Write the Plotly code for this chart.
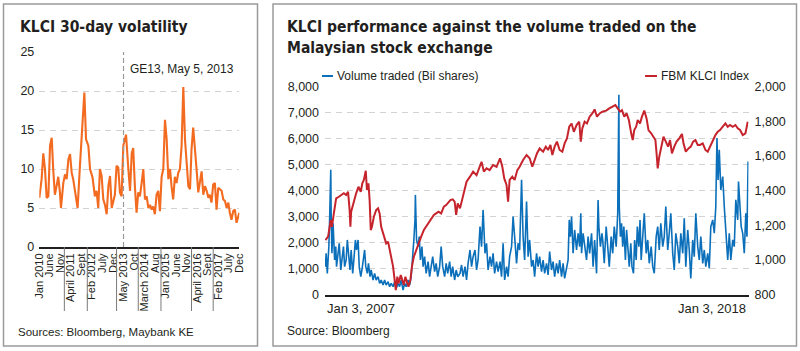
import plotly.graph_objects as go

# ---------------- Data: left chart (KLCI 30-day volatility) ----------------
# x = months since Jan 2010
vol_month = [0.0, 0.3, 1.1, 1.9, 2.7, 3.5, 4.3, 5.1, 5.9, 6.6, 7.4, 8.2, 9.0, 9.8, 10.3, 11.4, 12.2, 13.0,
             13.8, 14.6, 15.4, 16.1, 16.9, 18.2, 19.3, 20.1, 20.9, 21.4, 22.2, 23.3, 24.1, 25.3, 26.4, 27.2,
             28.0, 28.8, 29.6, 30.4, 31.2, 32.0, 32.8, 33.6, 34.4, 35.1, 35.9, 36.7, 37.5, 38.3, 39.1, 39.9,
             41.2, 42.3, 43.1, 43.9, 44.6, 45.4, 46.2, 47.0, 47.8, 48.6, 49.4, 50.2, 51.0, 51.8, 52.6, 53.4,
             54.1, 54.9, 55.7, 56.5, 57.3, 58.1, 58.9, 59.7, 60.5, 61.3, 62.1, 62.8, 63.6, 64.4, 65.2, 66.0,
             66.8, 67.6, 68.4, 69.2, 70.0, 70.8, 71.6, 72.3, 73.1, 73.9, 74.7, 75.5, 76.3, 77.1, 77.9, 78.7,
             79.5, 80.3, 81.0, 81.8, 82.6, 83.4, 84.2, 85.0, 85.8, 86.6, 87.4, 88.2, 89.0, 89.8, 90.5, 91.3,
             92.1, 92.9, 93.7, 94.5, 95.0]
vol_value = [6.3, 7.0, 8.7, 12.0, 10.0, 6.3, 6.5, 13.0, 14.0, 10.0, 6.7, 7.8, 9.0, 7.0, 5.0, 8.2, 9.3, 8.7,
             11.2, 11.9, 9.5, 8.7, 7.0, 5.0, 10.4, 13.8, 16.8, 19.8, 13.8, 13.0, 10.0, 8.9, 6.5, 7.2,
             5.0, 10.0, 9.1, 6.1, 5.4, 4.2, 7.8, 9.1, 5.0, 5.7, 6.7, 10.4, 10.2, 7.0, 6.5, 13.0,
             14.4, 10.0, 7.2, 12.0, 12.7, 7.8, 4.4, 7.0, 6.5, 8.2, 10.0, 6.1, 6.5, 5.0, 5.4, 4.8,
             5.2, 4.2, 6.7, 7.2, 4.6, 9.0, 10.0, 16.3, 13.8, 8.7, 10.0, 7.8, 6.1, 9.0, 8.2, 9.5,
             10.0, 13.0, 20.5, 13.8, 11.2, 7.8, 7.4, 12.5, 15.3, 13.0, 10.0, 7.0, 8.7, 9.7, 6.7, 7.8,
             7.2, 6.3, 6.7, 5.7, 8.0, 8.2, 4.8, 7.6, 7.4, 7.2, 6.1, 5.9, 5.0, 5.7, 4.4, 3.5,
             4.6, 4.8, 3.1, 4.2, 4.4]
vol_tick_months = [0, 5, 10, 15, 20, 25, 30, 35, 40, 45, 50, 55, 60, 65, 70, 75, 80, 85, 90, 95]
vol_tick_labels = ["Jan 2010", "June", "Nov", "April 2011", "Sept", "Feb 2012", "July", "Dec",
                   "May 2013", "Oct", "March 2014", "Aug", "Jan 2015", "June", "Nov", "April 2016",
                   "Sept", "Feb 2017", "July", "Dec"]
vol_year_breaks = [11.9, 22.8, 36.7, 47.0, 57.8, 72.3, 82.6]
ge13_month = 40
vol_y_ticks = [0, 5, 10, 15, 20, 25]

# ---------------- Data: right chart ----------------
volume_year = [2007.01, 2007.03, 2007.06, 2007.10, 2007.12, 2007.15, 2007.16, 2007.18, 2007.21, 2007.23, 2007.25,
               2007.28, 2007.30, 2007.34, 2007.37, 2007.41, 2007.44, 2007.48, 2007.51, 2007.55, 2007.58, 2007.61,
               2007.65, 2007.68, 2007.72, 2007.75, 2007.79, 2007.82, 2007.86, 2007.89, 2007.93, 2007.96, 2008.00,
               2008.03, 2008.06, 2008.10, 2008.13, 2008.17, 2008.20, 2008.25, 2008.29, 2008.33, 2008.38, 2008.42,
               2008.46, 2008.51, 2008.55, 2008.59, 2008.64, 2008.68, 2008.72, 2008.77, 2008.81, 2008.85, 2008.90,
               2008.94, 2008.98, 2009.03, 2009.07, 2009.11, 2009.16, 2009.20, 2009.24, 2009.28, 2009.31, 2009.34,
               2009.35, 2009.38, 2009.42, 2009.45, 2009.48, 2009.52, 2009.55, 2009.59, 2009.63, 2009.68, 2009.72,
               2009.76, 2009.80, 2009.85, 2009.89, 2009.93, 2009.98, 2010.02, 2010.06, 2010.11, 2010.15, 2010.19,
               2010.24, 2010.28, 2010.32, 2010.37, 2010.41, 2010.45,
               2010.51, 2010.55, 2010.59, 2010.64, 2010.68, 2010.72, 2010.77, 2010.81, 2010.85, 2010.90, 2010.94,
               2010.98, 2011.03, 2011.07, 2011.11, 2011.16, 2011.20, 2011.24, 2011.29, 2011.33, 2011.37, 2011.41,
               2011.46, 2011.50, 2011.55, 2011.59, 2011.63, 2011.67, 2011.72, 2011.76, 2011.80, 2011.85, 2011.89,
               2011.93, 2011.98, 2012.02, 2012.06, 2012.11, 2012.15, 2012.19, 2012.24, 2012.28, 2012.32, 2012.37,
               2012.41, 2012.45, 2012.50, 2012.54, 2012.58, 2012.63, 2012.67, 2012.71, 2012.76, 2012.80, 2012.84,
               2012.89, 2012.93, 2012.97, 2013.02, 2013.06, 2013.10, 2013.15, 2013.19, 2013.23, 2013.28, 2013.32,
               2013.35, 2013.38, 2013.41, 2013.45, 2013.49, 2013.54, 2013.58, 2013.62, 2013.65, 2013.67, 2013.71,
               2013.75, 2013.80, 2013.84, 2013.88, 2013.93, 2013.97, 2014.01, 2014.06, 2014.10, 2014.12, 2014.16,
               2014.20,
               2014.22, 2014.26, 2014.31, 2014.35, 2014.39, 2014.44, 2014.48, 2014.52, 2014.57, 2014.61, 2014.64,
               2014.65, 2014.68, 2014.71, 2014.74, 2014.77, 2014.81, 2014.84, 2014.88, 2014.91, 2014.95, 2014.98,
               2015.02, 2015.05, 2015.09, 2015.12, 2015.16, 2015.19, 2015.22, 2015.26, 2015.30, 2015.35, 2015.39,
               2015.43, 2015.48, 2015.52, 2015.56, 2015.61, 2015.65, 2015.69, 2015.73, 2015.78, 2015.82, 2015.86,
               2015.91, 2015.95, 2015.99, 2016.04, 2016.08, 2016.12, 2016.17, 2016.21, 2016.25, 2016.30, 2016.34,
               2016.38, 2016.43, 2016.47, 2016.51, 2016.56, 2016.60, 2016.64, 2016.69, 2016.73, 2016.77, 2016.82,
               2016.86, 2016.90, 2016.95, 2016.99, 2017.03, 2017.08, 2017.12, 2017.16, 2017.19, 2017.22, 2017.25,
               2017.29, 2017.34, 2017.38, 2017.42, 2017.47, 2017.51, 2017.55, 2017.60, 2017.64, 2017.68, 2017.73,
               2017.75, 2017.79, 2017.82, 2017.86, 2017.90, 2017.94, 2017.97, 2018.00]
volume_bn = [1079, 1592, 822, 1849, 2876, 4802, 3133, 1592, 2748, 2234, 1335,
             1849, 1079, 1592, 1977, 950, 1464, 1849, 1079, 1335, 2106, 1464,
             950, 1721, 822, 1335, 2106, 1721, 2106, 1079, 693, 950, 1335,
             1721, 1079, 822, 1207, 693, 950, 565, 822, 565, 693, 437,
             565, 372, 565, 372, 501, 308, 437, 308, 501, 244, 437,
             308, 565, 180, 437, 308, 565, 372, 693, 1335, 2106, 2876,
             3839, 2106, 1849, 2234, 1335, 1849, 1079, 1464, 822, 1271, 693,
             1079, 1464, 886, 1207, 693, 1079, 1849, 1079, 693, 1207, 822,
             1271, 693, 1079, 565, 950, 693,
             822, 1143, 693, 1079, 565, 1207, 1721, 1079, 1464, 1721, 950,
             1335, 2619, 1849, 3261, 1592, 1977, 950, 1464, 1079, 1592, 822,
             1271, 886, 1271, 693, 1977, 565, 1079, 693, 1464, 1849, 3004,
             2234, 1207, 1977, 1721, 4417, 2234, 1335, 3582, 1464, 2106, 1079,
             1335, 693, 1592, 1079, 1464, 886, 1335, 822, 1207, 757, 1656,
             950, 1271, 693, 1207, 822, 1335, 693, 1207, 629, 1079, 1335,
             2876, 2234, 3004, 1592, 2491, 1721, 2363, 1849, 3133, 1592, 2363,
             1849, 1335, 2234, 1592, 2363, 1079, 2106, 822, 3646, 2619, 1849,
             2363,
             2106, 1207, 2619, 1849, 1079, 2234, 1592, 2619, 1849, 3133, 7691,
             3390, 2234, 2748, 1849, 2619, 1335, 2491, 1592, 1079, 1977, 1079,
             822, 2106, 1335, 2619, 1849, 2876, 1335, 2363, 3133, 1592, 2106,
             1207, 1849, 1079, 822, 2234, 2619, 1721, 2748, 1849, 2234, 3390,
             1721, 2363, 3133, 1592, 950, 2363, 1849, 1207, 2363, 1592, 2940,
             1079, 2491, 1721, 629, 2106, 1464, 3133, 1849, 1335, 2234, 1207,
             1721, 1079, 1592, 1014, 2619, 2876, 2363, 3390, 6022, 4417, 5572,
             4032, 4545, 3390, 2619, 1335, 2363, 1335, 2106, 1849, 3646, 2876,
             4353, 3390, 2619, 2363, 1592, 3133, 2234, 5123]

klci_year = [2007.01, 2007.08, 2007.15, 2007.18, 2007.23, 2007.29, 2007.36, 2007.42, 2007.49, 2007.55, 2007.60,
             2007.64, 2007.66, 2007.68, 2007.75, 2007.81, 2007.87, 2007.93, 2007.97, 2008.01, 2008.06, 2008.09,
             2008.13, 2008.16, 2008.19, 2008.22, 2008.27, 2008.33, 2008.38, 2008.42, 2008.46, 2008.51, 2008.55,
             2008.59, 2008.64, 2008.68, 2008.72, 2008.77, 2008.81, 2008.84, 2008.88, 2008.91, 2008.97, 2009.00,
             2009.05, 2009.09, 2009.14, 2009.17, 2009.22, 2009.26, 2009.31, 2009.37, 2009.43, 2009.50, 2009.57,
             2009.63, 2009.69, 2009.76, 2009.83, 2009.89, 2009.95, 2010.02, 2010.09, 2010.15, 2010.21, 2010.26,
             2010.32, 2010.37, 2010.41, 2010.45,
             2010.51, 2010.59, 2010.68, 2010.77, 2010.85, 2010.94, 2011.03, 2011.07, 2011.13, 2011.20, 2011.28,
             2011.37, 2011.46, 2011.55, 2011.61, 2011.66, 2011.72, 2011.76, 2011.80, 2011.87, 2011.93, 2012.00,
             2012.06, 2012.15, 2012.24, 2012.32, 2012.39, 2012.45, 2012.51, 2012.58, 2012.67, 2012.74, 2012.80,
             2012.86, 2012.91, 2012.97, 2013.03, 2013.10, 2013.17, 2013.23, 2013.29, 2013.35, 2013.41, 2013.47,
             2013.54, 2013.61, 2013.65, 2013.69, 2013.75, 2013.81, 2013.88, 2013.95, 2014.01, 2014.07, 2014.14,
             2014.21,
             2014.31, 2014.39, 2014.48, 2014.55, 2014.61, 2014.67, 2014.72, 2014.78, 2014.84, 2014.90, 2014.96,
             2015.00, 2015.04, 2015.09, 2015.13, 2015.19, 2015.24, 2015.30, 2015.36, 2015.41, 2015.48, 2015.54,
             2015.59, 2015.62, 2015.65, 2015.69, 2015.76, 2015.80, 2015.86, 2015.92, 2015.97, 2016.02, 2016.08,
             2016.14, 2016.21, 2016.28, 2016.32, 2016.38, 2016.45, 2016.51, 2016.57, 2016.63, 2016.69, 2016.75,
             2016.82, 2016.89, 2016.95, 2017.01, 2017.08, 2017.15, 2017.21, 2017.27, 2017.34, 2017.41, 2017.47,
             2017.53, 2017.60, 2017.67, 2017.73, 2017.79, 2017.86, 2017.93, 2017.99]
klci_index = [1115, 1135, 1231, 1192, 1269, 1356, 1365, 1375, 1385, 1375, 1394,
              1288, 1192, 1279, 1346, 1385, 1423, 1394, 1442, 1462, 1515, 1404,
              1442, 1346, 1173, 1192, 1250, 1288, 1298, 1269, 1192, 1154, 1135,
              1096, 1106, 1058, 1029, 962, 885, 827, 904, 865, 913, 885,
              856, 904, 875, 846, 885, 962, 1019, 1058, 1096, 1135, 1173,
              1192, 1212, 1231, 1260, 1269, 1279, 1269, 1308, 1317, 1337, 1346,
              1350, 1337, 1260, 1327,
              1298, 1365, 1452, 1481, 1510, 1490, 1538, 1567, 1510, 1529, 1519,
              1548, 1538, 1587, 1538, 1471, 1433, 1337, 1462, 1481, 1462, 1519,
              1538, 1577, 1606, 1587, 1538, 1577, 1615, 1644, 1625, 1654, 1635,
              1664, 1606, 1654, 1683, 1635, 1625, 1673, 1702, 1769, 1788, 1740,
              1779, 1798, 1683, 1760, 1798, 1788, 1827, 1846, 1869, 1827, 1846,
              1856,
              1862, 1875, 1885, 1894, 1875, 1856, 1865, 1827, 1846, 1808, 1731,
              1692, 1750, 1769, 1808, 1788, 1827, 1862, 1817, 1750, 1731, 1712,
              1692, 1615, 1529, 1596, 1664, 1712, 1683, 1654, 1692, 1615, 1654,
              1683, 1702, 1727, 1673, 1625, 1644, 1654, 1683, 1692, 1664, 1664,
              1673, 1635, 1625, 1654, 1683, 1721, 1740, 1750, 1769, 1788, 1769,
              1779, 1769, 1779, 1760, 1750, 1721, 1731, 1798]
volume_ticks = [0, 1000, 2000, 3000, 4000, 5000, 6000, 7000, 8000]
klci_ticks = [800, 1000, 1200, 1400, 1600, 1800, 2000]
right_x_start, right_x_end = 2007.0, 2018.0
right_x_labels = ["Jan 3, 2007", "Jan 3, 2018"]

# ---------------- Styling ----------------
W, H = 800, 351
ORANGE = "#f26b21"
BLUE = "#0b6fba"
RED = "#c6242d"
TXT = "#231f20"
GRID = "#d3d3d3"
BORDER = "#9a9a9a"
BASE_FONT = "Liberation Sans, Arial, Helvetica, sans-serif"
TITLE_FONT = "Noto Sans ExtraCondensed, Noto Sans Condensed, Liberation Sans Narrow, DejaVu Sans Condensed, sans-serif"
TITLE_SIZE = 15.5


def px(x):
    return x / W


def py(y):
    return 1 - y / H


fig = go.Figure()
fig.add_trace(go.Scatter(x=vol_month, y=vol_value, mode="lines", xaxis="x", yaxis="y",
                         line=dict(color=ORANGE, width=2.1), showlegend=False, hoverinfo="skip"))
fig.add_trace(go.Scatter(x=volume_year, y=volume_bn, mode="lines", xaxis="x2", yaxis="y2",
                         line=dict(color=BLUE, width=1.6), showlegend=False, hoverinfo="skip"))
fig.add_trace(go.Scatter(x=klci_year, y=klci_index, mode="lines", xaxis="x2", yaxis="y3",
                         line=dict(color=RED, width=2), showlegend=False, hoverinfo="skip"))

shapes = []
# panel borders
shapes.append(dict(type="rect", xref="paper", yref="paper", x0=px(3.5), x1=px(257.5), y0=py(346), y1=py(4),
                   line=dict(color=BORDER, width=1.5)))
shapes.append(dict(type="rect", xref="paper", yref="paper", x0=px(273), x1=px(796.5), y0=py(346), y1=py(4),
                   line=dict(color=BORDER, width=1.5)))
# year separators under left x axis
for m in vol_year_breaks:
    shapes.append(dict(type="line", xref="x", yref="paper", x0=m, x1=m, y0=py(247), y1=py(311),
                       line=dict(color="#7a7a7a", width=1)))
# GE13 dashed line
shapes.append(dict(type="line", xref="x", yref="y", x0=ge13_month, x1=ge13_month, y0=0, y1=25,
                   line=dict(color="#9a9a9a", width=1.2, dash="5px,3px")))
# legend keys
shapes.append(dict(type="line", xref="paper", yref="paper", x0=px(322), x1=px(333), y0=py(76), y1=py(76),
                   line=dict(color=BLUE, width=2)))
shapes.append(dict(type="line", xref="paper", yref="paper", x0=px(645), x1=px(657), y0=py(76), y1=py(76),
                   line=dict(color=RED, width=2)))

annotations = []


def ann(text, x, y, size, xanchor="left", family=BASE_FONT, xref="paper", yref="paper"):
    annotations.append(dict(text=text, x=x, y=y, xref=xref, yref=yref, xanchor=xanchor, yanchor="middle",
                            showarrow=False, font=dict(family=family, size=size, color=TXT)))


ann("<b>KLCI 30-day volatility</b>", px(18), py(27), TITLE_SIZE, family=TITLE_FONT)
ann("GE13, May 5, 2013", 42.2, 22.8, 12, xref="x", yref="y")
ann("Sources: Bloomberg, Maybank KE", px(16), py(332), 11.5)

ann("<b>KLCI performance against the volume traded on the</b>", px(285), py(27), TITLE_SIZE, family=TITLE_FONT)
ann("<b>Malaysian stock exchange</b>", px(285), py(48), TITLE_SIZE, family=TITLE_FONT)
ann("Volume traded (Bil shares)", px(335), py(76), 12)
ann("FBM KLCI Index", px(659), py(76), 12)
ann(right_x_labels[0], right_x_start, py(308), 13, xref="x2")
ann(right_x_labels[1], right_x_end, py(308), 13, xanchor="right", xref="x2")
ann("Source: Bloomberg", px(285), py(331), 12)

axis_common = dict(ticks="", zeroline=False, fixedrange=True, automargin=False)

fig.update_layout(
    width=W, height=H, margin=dict(l=0, r=0, t=0, b=0, autoexpand=False),
    paper_bgcolor="white", plot_bgcolor="white",
    font=dict(family=BASE_FONT, color=TXT, size=12),
    showlegend=False,
    xaxis=dict(domain=[px(39.3), px(239.3)], range=[0, 95], anchor="y",
               tickmode="array", tickvals=vol_tick_months, ticktext=vol_tick_labels, tickangle=-90,
               tickfont=dict(size=11), showgrid=False, showline=True, linewidth=2, linecolor=TXT,
               **axis_common),
    yaxis=dict(domain=[py(247), py(52)], range=[0, 25], anchor="x",
               tickmode="array", tickvals=vol_y_ticks, tickfont=dict(size=12.5), ticklabelstandoff=4,
               showgrid=True, gridcolor=GRID, gridwidth=1, griddash="6px,5px", showline=False,
               **axis_common),
    xaxis2=dict(domain=[px(325), px(748.5)], range=[right_x_start, right_x_end + 0.01], anchor="y2",
                showticklabels=False, showgrid=False, showline=True, linewidth=2, linecolor=TXT,
                **axis_common),
    yaxis2=dict(domain=[py(294.7), py(86.7)], range=[0, 8000], anchor="x2",
                tickmode="array", tickvals=volume_ticks, tickformat=",", tickfont=dict(size=12.5),
                ticklabelstandoff=5,
                showgrid=True, gridcolor=GRID, gridwidth=1, griddash="6px,5px", showline=False,
                **axis_common),
    yaxis3=dict(range=[800, 2000], anchor="x2", overlaying="y2", side="right",
                tickmode="array", tickvals=klci_ticks, tickformat=",", tickfont=dict(size=12.5),
                ticklabelstandoff=5,
                showgrid=False, showline=False, **axis_common),
    shapes=shapes,
    annotations=annotations,
)

fig.write_html("out.html", config={"displayModeBar": False})
